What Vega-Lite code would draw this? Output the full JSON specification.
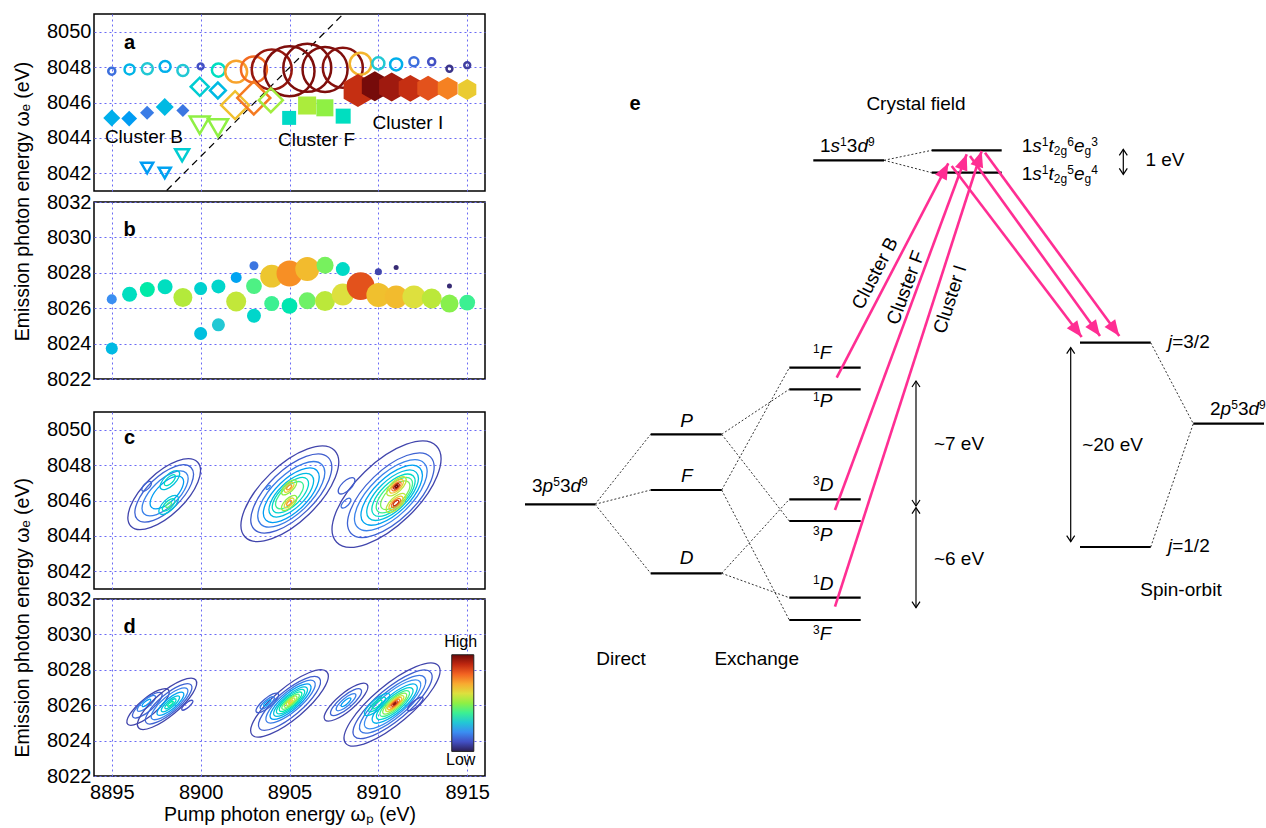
{
  "$schema": "https://vega.github.io/schema/vega-lite/v6.json",
  "padding": {"left": 13, "top": 13, "right": 0, "bottom": 0},
  "spacing": 9,
  "config": {
    "font": "Liberation Sans",
    "view": {"stroke": "black", "strokeWidth": 1.5},
    "axis": {"labelFont": "Liberation Sans", "labelFontSize": 20, "labelColor": "black", "titleFont": "Liberation Sans", "titleFontSize": 19.5, "titleFontWeight": "normal", "titleColor": "black", "grid": true, "gridColor": "#6b6bf5", "gridDash": [2, 3], "gridWidth": 1, "gridOpacity": 1, "domain": false, "ticks": false, "labelPadding": 3},
    "title": {"font": "Liberation Sans", "fontSize": 19.5, "fontWeight": "normal", "color": "black"},
    "text": {"font": "Liberation Sans", "color": "black"},
    "legend": {"disable": true}
  },
  "resolve": {"scale": {"size": "independent", "color": "independent"}},
  "datasets": {
    "a_line": [{"x": 8898.09, "y": 8041.03}, {"x": 8908.02, "y": 8051.0}],
    "a_circ": [
      {"x": 8895, "y": 8047.77, "t": 0.15, "w": 2},
      {"x": 8896, "y": 8047.87, "t": 0.26, "w": 4},
      {"x": 8897, "y": 8047.91, "t": 0.3, "w": 4.8},
      {"x": 8898, "y": 8048.04, "t": 0.25, "w": 4.8},
      {"x": 8899, "y": 8047.81, "t": 0.3, "w": 4.8},
      {"x": 8900, "y": 8048.04, "t": 0.1, "w": 1.4},
      {"x": 8901, "y": 8047.83, "t": 0.35, "w": 6.8},
      {"x": 8902, "y": 8047.74, "t": 0.71, "w": 19},
      {"x": 8903, "y": 8047.87, "t": 0.79, "w": 27},
      {"x": 8904, "y": 8047.87, "t": 0.95, "w": 64},
      {"x": 8905, "y": 8047.77, "t": 0.98, "w": 100},
      {"x": 8906, "y": 8047.96, "t": 0.98, "w": 92},
      {"x": 8907, "y": 8047.87, "t": 0.98, "w": 81},
      {"x": 8908, "y": 8047.96, "t": 0.97, "w": 64},
      {"x": 8909, "y": 8048.19, "t": 0.68, "w": 19},
      {"x": 8910, "y": 8048.21, "t": 0.3, "w": 5.8},
      {"x": 8911, "y": 8048.15, "t": 0.25, "w": 5.8},
      {"x": 8912, "y": 8048.3, "t": 0.15, "w": 3.2},
      {"x": 8913, "y": 8048.3, "t": 0.1, "w": 2},
      {"x": 8914, "y": 8047.91, "t": 0.05, "w": 1.4},
      {"x": 8915, "y": 8048.11, "t": 0.07, "w": 1.4}
    ],
    "a_hex": [
      {"x": 8908.85, "y": 8046.68, "t": 0.89, "w": 43.6},
      {"x": 8909.8, "y": 8046.92, "t": 0.99, "w": 36},
      {"x": 8910.75, "y": 8046.87, "t": 0.94, "w": 33.6},
      {"x": 8911.8, "y": 8046.8, "t": 0.89, "w": 29},
      {"x": 8912.8, "y": 8046.8, "t": 0.83, "w": 25},
      {"x": 8913.9, "y": 8046.8, "t": 0.76, "w": 21},
      {"x": 8915.0, "y": 8046.74, "t": 0.64, "w": 17.6}
    ],
    "a_odiam": [
      {"x": 8899.95, "y": 8046.89, "t": 0.31, "w": 13},
      {"x": 8900.97, "y": 8046.68, "t": 0.27, "w": 10},
      {"x": 8901.94, "y": 8045.85, "t": 0.66, "w": 31},
      {"x": 8902.99, "y": 8046.26, "t": 0.77, "w": 43.6},
      {"x": 8903.95, "y": 8046.13, "t": 0.52, "w": 23}
    ],
    "a_fdiam": [
      {"x": 8895.0, "y": 8045.13, "t": 0.25, "w": 11.6},
      {"x": 8895.98, "y": 8045.09, "t": 0.22, "w": 10},
      {"x": 8896.99, "y": 8045.42, "t": 0.17, "w": 8},
      {"x": 8897.98, "y": 8045.75, "t": 0.27, "w": 13},
      {"x": 8899.0, "y": 8045.55, "t": 0.16, "w": 6.8}
    ],
    "a_tri": [
      {"x": 8899.95, "y": 8044.72, "t": 0.5, "w": 16},
      {"x": 8900.98, "y": 8044.57, "t": 0.5, "w": 16},
      {"x": 8898.96, "y": 8043.02, "t": 0.31, "w": 7.8},
      {"x": 8896.99, "y": 8042.3, "t": 0.22, "w": 5.8},
      {"x": 8897.98, "y": 8042.02, "t": 0.23, "w": 5.8}
    ],
    "a_sq": [
      {"x": 8904.98, "y": 8045.13, "t": 0.34, "w": 7.8},
      {"x": 8905.99, "y": 8045.83, "t": 0.53, "w": 13},
      {"x": 8906.99, "y": 8045.7, "t": 0.5, "w": 11.6},
      {"x": 8908.02, "y": 8045.23, "t": 0.35, "w": 9}
    ],
    "a_text": [
      {"x": 8896.81, "y": 8044.07, "text": "Cluster B"},
      {"x": 8906.52, "y": 8043.88, "text": "Cluster F"},
      {"x": 8911.66, "y": 8044.82, "text": "Cluster I"}
    ],
    "b_pts": [
      {"x": 8895, "y": 8026.51, "t": 0.2, "w": 4},
      {"x": 8895, "y": 8023.72, "t": 0.27, "w": 5.8},
      {"x": 8896, "y": 8026.79, "t": 0.35, "w": 9},
      {"x": 8897, "y": 8027.06, "t": 0.38, "w": 9},
      {"x": 8898, "y": 8027.21, "t": 0.35, "w": 9},
      {"x": 8899, "y": 8026.6, "t": 0.54, "w": 14.4},
      {"x": 8900, "y": 8027.11, "t": 0.32, "w": 6.8},
      {"x": 8900, "y": 8024.57, "t": 0.28, "w": 6.8},
      {"x": 8901, "y": 8027.23, "t": 0.33, "w": 7.8},
      {"x": 8901, "y": 8025.06, "t": 0.3, "w": 6.8},
      {"x": 8902, "y": 8027.74, "t": 0.23, "w": 4.8},
      {"x": 8902, "y": 8026.38, "t": 0.56, "w": 16},
      {"x": 8903, "y": 8028.4, "t": 0.16, "w": 3.2},
      {"x": 8903, "y": 8027.25, "t": 0.42, "w": 10},
      {"x": 8903, "y": 8025.57, "t": 0.33, "w": 7.8},
      {"x": 8904, "y": 8027.81, "t": 0.65, "w": 21},
      {"x": 8904, "y": 8026.26, "t": 0.4, "w": 9},
      {"x": 8905, "y": 8027.96, "t": 0.74, "w": 27},
      {"x": 8905, "y": 8026.13, "t": 0.37, "w": 10},
      {"x": 8906, "y": 8028.21, "t": 0.67, "w": 23},
      {"x": 8906, "y": 8026.42, "t": 0.46, "w": 11.6},
      {"x": 8907, "y": 8028.43, "t": 0.47, "w": 11.6},
      {"x": 8907, "y": 8026.4, "t": 0.55, "w": 16},
      {"x": 8908, "y": 8028.21, "t": 0.34, "w": 7.8},
      {"x": 8908, "y": 8026.77, "t": 0.6, "w": 19.4},
      {"x": 8909, "y": 8027.25, "t": 0.83, "w": 31},
      {"x": 8910, "y": 8028.06, "t": 0.08, "w": 2},
      {"x": 8910, "y": 8026.74, "t": 0.66, "w": 23},
      {"x": 8911, "y": 8028.3, "t": 0.03, "w": 1},
      {"x": 8911, "y": 8026.64, "t": 0.67, "w": 21},
      {"x": 8912, "y": 8026.64, "t": 0.6, "w": 21},
      {"x": 8913, "y": 8026.55, "t": 0.55, "w": 16},
      {"x": 8914, "y": 8027.25, "t": 0.03, "w": 1},
      {"x": 8914, "y": 8026.26, "t": 0.49, "w": 13},
      {"x": 8915, "y": 8026.32, "t": 0.4, "w": 10}
    ],
    "c_cont": [
      {"x": 8897.95, "y": 8046.36, "a": 2.6, "t": 0.08},
      {"x": 8897.95, "y": 8046.4, "a": 2.1, "t": 0.13},
      {"x": 8898.0, "y": 8046.4, "a": 1.65, "t": 0.18},
      {"x": 8898.1, "y": 8046.45, "a": 1.2, "t": 0.22},
      {"x": 8898.27, "y": 8047.15, "a": 0.7, "t": 0.28},
      {"x": 8898.2, "y": 8045.75, "a": 0.7, "t": 0.28},
      {"x": 8898.27, "y": 8047.15, "a": 0.4, "t": 0.35},
      {"x": 8898.2, "y": 8045.75, "a": 0.45, "t": 0.35},
      {"x": 8898.2, "y": 8045.75, "a": 0.2, "t": 0.42},
      {"x": 8896.96, "y": 8046.8, "a": 0.35, "t": 0.13},
      {"x": 8905.02, "y": 8046.38, "a": 3.5, "t": 0.08},
      {"x": 8905.1, "y": 8046.4, "a": 2.9, "t": 0.12},
      {"x": 8905.1, "y": 8046.35, "a": 2.4, "t": 0.17},
      {"x": 8905.1, "y": 8046.3, "a": 2.0, "t": 0.22},
      {"x": 8905.1, "y": 8046.3, "a": 1.6, "t": 0.27},
      {"x": 8905.05, "y": 8046.3, "a": 1.3, "t": 0.33},
      {"x": 8905.0, "y": 8046.3, "a": 1.0, "t": 0.4},
      {"x": 8904.98, "y": 8046.74, "a": 0.55, "t": 0.5},
      {"x": 8904.98, "y": 8045.86, "a": 0.55, "t": 0.5},
      {"x": 8904.98, "y": 8046.74, "a": 0.35, "t": 0.62},
      {"x": 8904.98, "y": 8045.86, "a": 0.35, "t": 0.62},
      {"x": 8904.98, "y": 8046.74, "a": 0.18, "t": 0.72},
      {"x": 8904.98, "y": 8045.86, "a": 0.18, "t": 0.72},
      {"x": 8903.8, "y": 8046.74, "a": 0.15, "t": 0.2},
      {"x": 8910.46, "y": 8046.36, "a": 3.9, "t": 0.08},
      {"x": 8908.21, "y": 8046.83, "a": 0.6, "t": 0.12},
      {"x": 8908.18, "y": 8045.85, "a": 0.35, "t": 0.15},
      {"x": 8910.7, "y": 8046.3, "a": 3.1, "t": 0.13},
      {"x": 8910.7, "y": 8046.3, "a": 2.6, "t": 0.18},
      {"x": 8910.75, "y": 8046.3, "a": 2.2, "t": 0.23},
      {"x": 8910.8, "y": 8046.3, "a": 1.85, "t": 0.28},
      {"x": 8910.85, "y": 8046.3, "a": 1.55, "t": 0.34},
      {"x": 8910.9, "y": 8046.3, "a": 1.3, "t": 0.4},
      {"x": 8910.95, "y": 8046.3, "a": 1.05, "t": 0.47},
      {"x": 8911.02, "y": 8046.8, "a": 0.7, "t": 0.55},
      {"x": 8910.99, "y": 8045.86, "a": 0.7, "t": 0.55},
      {"x": 8911.02, "y": 8046.8, "a": 0.5, "t": 0.65},
      {"x": 8910.99, "y": 8045.86, "a": 0.5, "t": 0.65},
      {"x": 8911.02, "y": 8046.8, "a": 0.33, "t": 0.78},
      {"x": 8910.99, "y": 8045.86, "a": 0.33, "t": 0.78},
      {"x": 8911.02, "y": 8046.8, "a": 0.2, "t": 0.9},
      {"x": 8910.99, "y": 8045.86, "a": 0.2, "t": 0.88},
      {"x": 8911.02, "y": 8046.8, "a": 0.1, "t": 1.0}
    ],
    "d_cont": [
      {"x": 8897.04, "y": 8025.9, "a": 1.5, "t": 0.08},
      {"x": 8897.0, "y": 8026.0, "a": 1.05, "t": 0.13},
      {"x": 8896.95, "y": 8026.1, "a": 0.65, "t": 0.18},
      {"x": 8896.95, "y": 8026.13, "a": 0.3, "t": 0.22},
      {"x": 8898.11, "y": 8026.08, "a": 2.1, "t": 0.08},
      {"x": 8898.2, "y": 8026.08, "a": 1.65, "t": 0.13},
      {"x": 8898.25, "y": 8026.08, "a": 1.3, "t": 0.18},
      {"x": 8898.3, "y": 8026.08, "a": 0.95, "t": 0.23},
      {"x": 8898.3, "y": 8026.08, "a": 0.65, "t": 0.28},
      {"x": 8898.3, "y": 8026.08, "a": 0.4, "t": 0.33},
      {"x": 8898.3, "y": 8026.08, "a": 0.2, "t": 0.38},
      {"x": 8899.25, "y": 8026.0, "a": 0.4, "t": 0.1},
      {"x": 8905.0, "y": 8026.1, "a": 2.75, "t": 0.08},
      {"x": 8905.0, "y": 8026.1, "a": 2.2, "t": 0.12},
      {"x": 8903.75, "y": 8026.13, "a": 0.8, "t": 0.12},
      {"x": 8903.75, "y": 8026.13, "a": 0.5, "t": 0.17},
      {"x": 8903.75, "y": 8026.13, "a": 0.25, "t": 0.22},
      {"x": 8905.06, "y": 8026.2, "a": 1.75, "t": 0.17},
      {"x": 8905.06, "y": 8026.2, "a": 1.45, "t": 0.22},
      {"x": 8905.06, "y": 8026.2, "a": 1.2, "t": 0.28},
      {"x": 8905.06, "y": 8026.2, "a": 1.0, "t": 0.33},
      {"x": 8905.06, "y": 8026.2, "a": 0.8, "t": 0.38},
      {"x": 8905.06, "y": 8026.2, "a": 0.62, "t": 0.44},
      {"x": 8905.06, "y": 8026.2, "a": 0.45, "t": 0.5},
      {"x": 8905.06, "y": 8026.2, "a": 0.3, "t": 0.56},
      {"x": 8905.06, "y": 8026.2, "a": 0.15, "t": 0.62},
      {"x": 8908.18, "y": 8026.17, "a": 1.55, "t": 0.08},
      {"x": 8908.18, "y": 8026.17, "a": 1.1, "t": 0.13},
      {"x": 8908.18, "y": 8026.17, "a": 0.7, "t": 0.18},
      {"x": 8908.18, "y": 8026.17, "a": 0.35, "t": 0.22},
      {"x": 8910.77, "y": 8026.04, "a": 3.4, "t": 0.08},
      {"x": 8910.8, "y": 8026.05, "a": 2.8, "t": 0.12},
      {"x": 8910.8, "y": 8026.05, "a": 2.35, "t": 0.16},
      {"x": 8910.8, "y": 8026.05, "a": 2.0, "t": 0.2},
      {"x": 8909.93, "y": 8026.04, "a": 0.9, "t": 0.27},
      {"x": 8909.93, "y": 8026.04, "a": 0.6, "t": 0.33},
      {"x": 8909.93, "y": 8026.04, "a": 0.35, "t": 0.38},
      {"x": 8910.92, "y": 8026.09, "a": 1.6, "t": 0.25},
      {"x": 8910.92, "y": 8026.09, "a": 1.3, "t": 0.32},
      {"x": 8910.92, "y": 8026.09, "a": 1.05, "t": 0.4},
      {"x": 8910.92, "y": 8026.09, "a": 0.85, "t": 0.48},
      {"x": 8910.92, "y": 8026.09, "a": 0.65, "t": 0.57},
      {"x": 8910.92, "y": 8026.09, "a": 0.5, "t": 0.66},
      {"x": 8910.92, "y": 8026.09, "a": 0.35, "t": 0.75},
      {"x": 8910.92, "y": 8026.09, "a": 0.22, "t": 0.85},
      {"x": 8910.92, "y": 8026.09, "a": 0.1, "t": 0.95},
      {"x": 8912.08, "y": 8026.07, "a": 0.55, "t": 0.1}
    ],
    "e_levels": [
      {"x": 2.5, "x2": 9.5, "y": 27.37},
      {"x": 15.07, "x2": 22.17, "y": 34.37},
      {"x": 15.07, "x2": 22.17, "y": 28.8},
      {"x": 15.07, "x2": 22.17, "y": 20.47},
      {"x": 28.93, "x2": 36.07, "y": 41.03},
      {"x": 28.93, "x2": 36.07, "y": 38.87},
      {"x": 28.93, "x2": 36.07, "y": 27.87},
      {"x": 28.93, "x2": 36.07, "y": 25.7},
      {"x": 28.93, "x2": 36.07, "y": 18.03},
      {"x": 28.93, "x2": 36.07, "y": 15.8},
      {"x": 58.0, "x2": 65.07, "y": 43.53},
      {"x": 58.0, "x2": 65.07, "y": 23.1},
      {"x": 69.33, "x2": 76.4, "y": 35.43},
      {"x": 31.33, "x2": 38.4, "y": 61.77},
      {"x": 43.17, "x2": 50.17, "y": 62.77},
      {"x": 43.17, "x2": 50.17, "y": 60.53}
    ],
    "e_links": [
      {"x": 9.5, "y": 27.37, "x2": 15.07, "y2": 34.37},
      {"x": 9.5, "y": 27.37, "x2": 15.07, "y2": 28.8},
      {"x": 9.5, "y": 27.37, "x2": 15.07, "y2": 20.47},
      {"x": 22.17, "y": 34.37, "x2": 28.93, "y2": 38.87},
      {"x": 22.17, "y": 34.37, "x2": 28.93, "y2": 25.7},
      {"x": 22.17, "y": 28.8, "x2": 28.93, "y2": 41.03},
      {"x": 22.17, "y": 28.8, "x2": 28.93, "y2": 15.8},
      {"x": 22.17, "y": 20.47, "x2": 28.93, "y2": 27.87},
      {"x": 22.17, "y": 20.47, "x2": 28.93, "y2": 18.03},
      {"x": 38.4, "y": 61.77, "x2": 43.17, "y2": 62.77},
      {"x": 38.4, "y": 61.77, "x2": 43.17, "y2": 60.53},
      {"x": 65.07, "y": 43.53, "x2": 69.33, "y2": 35.43},
      {"x": 65.07, "y": 23.1, "x2": 69.33, "y2": 35.43}
    ],
    "e_trans": [
      {"x": 33.67, "y": 40.03, "x2": 44.83, "y2": 61.47, "dir": 27.5},
      {"x": 33.5, "y": 26.8, "x2": 46.67, "y2": 62.37, "dir": 20.3},
      {"x": 33.5, "y": 17.13, "x2": 48.17, "y2": 62.7, "dir": 17.8},
      {"x": 45.17, "y": 61.2, "x2": 58.17, "y2": 44.1, "dir": 142.8},
      {"x": 47.0, "y": 62.2, "x2": 60.0, "y2": 44.2, "dir": 144.2},
      {"x": 48.5, "y": 62.53, "x2": 61.93, "y2": 44.2, "dir": 143.8}
    ],
    "e_spans": [
      {"x": 62.33, "y": 62.87, "y2": 60.37},
      {"x": 41.6, "y": 39.7, "y2": 27.2},
      {"x": 41.6, "y": 27.03, "y2": 17.03},
      {"x": 57.07, "y": 43.03, "y2": 23.63}
    ],
    "e_text": [
      {"x": 41.6, "y": 67.4, "text": "Crystal field", "role": "c"},
      {"x": 66.5, "y": 61.8, "text": "1 eV", "role": "c"},
      {"x": 61.25, "y": 33.3, "text": "~20 eV", "role": "c"},
      {"x": 45.9, "y": 33.37, "text": "~7 eV", "role": "c"},
      {"x": 45.9, "y": 21.87, "text": "~6 eV", "role": "c"},
      {"x": 12.1, "y": 11.87, "text": "Direct", "role": "c"},
      {"x": 25.67, "y": 11.87, "text": "Exchange", "role": "c"},
      {"x": 68.1, "y": 18.77, "text": "Spin-orbit", "role": "c"},
      {"x": 13.5, "y": 67.4, "text": "e", "role": "b"},
      {"x": 37.5, "y": 50.47, "text": "Cluster B", "role": "r", "ang": 297.5},
      {"x": 40.57, "y": 49.03, "text": "Cluster F", "role": "r", "ang": 290.3},
      {"x": 45.0, "y": 47.87, "text": "Cluster I", "role": "r", "ang": 287.8},
      {"x": 32.0, "y": 63.2, "text": "1", "role": "n"},
      {"x": 33.06, "y": 63.2, "text": "s", "role": "i"},
      {"x": 34.01, "y": 63.2, "text": "1", "role": "sup"},
      {"x": 34.68, "y": 63.2, "text": "3", "role": "n"},
      {"x": 35.74, "y": 63.2, "text": "d", "role": "i"},
      {"x": 36.8, "y": 63.2, "text": "9", "role": "sup"},
      {"x": 52.17, "y": 63.2, "text": "1", "role": "n"},
      {"x": 53.23, "y": 63.2, "text": "s", "role": "i"},
      {"x": 54.18, "y": 63.2, "text": "1", "role": "sup"},
      {"x": 54.85, "y": 63.2, "text": "t", "role": "i"},
      {"x": 55.38, "y": 63.2, "text": "2g", "role": "sub"},
      {"x": 56.72, "y": 63.2, "text": "6", "role": "sup"},
      {"x": 57.39, "y": 63.2, "text": "e", "role": "i"},
      {"x": 58.45, "y": 63.2, "text": "g", "role": "sub"},
      {"x": 59.12, "y": 63.2, "text": "3", "role": "sup"},
      {"x": 52.17, "y": 60.43, "text": "1", "role": "n"},
      {"x": 53.23, "y": 60.43, "text": "s", "role": "i"},
      {"x": 54.18, "y": 60.43, "text": "1", "role": "sup"},
      {"x": 54.85, "y": 60.43, "text": "t", "role": "i"},
      {"x": 55.38, "y": 60.43, "text": "2g", "role": "sub"},
      {"x": 56.72, "y": 60.43, "text": "5", "role": "sup"},
      {"x": 57.39, "y": 60.43, "text": "e", "role": "i"},
      {"x": 58.45, "y": 60.43, "text": "g", "role": "sub"},
      {"x": 59.12, "y": 60.43, "text": "4", "role": "sup"},
      {"x": 3.2, "y": 29.2, "text": "3", "role": "n"},
      {"x": 4.26, "y": 29.2, "text": "p", "role": "i"},
      {"x": 5.32, "y": 29.2, "text": "5", "role": "sup"},
      {"x": 5.99, "y": 29.2, "text": "3", "role": "n"},
      {"x": 7.05, "y": 29.2, "text": "d", "role": "i"},
      {"x": 8.11, "y": 29.2, "text": "9", "role": "sup"},
      {"x": 71.0, "y": 36.9, "text": "2", "role": "n"},
      {"x": 72.06, "y": 36.9, "text": "p", "role": "i"},
      {"x": 73.12, "y": 36.9, "text": "5", "role": "sup"},
      {"x": 73.79, "y": 36.9, "text": "3", "role": "n"},
      {"x": 74.85, "y": 36.9, "text": "d", "role": "i"},
      {"x": 75.91, "y": 36.9, "text": "9", "role": "sup"},
      {"x": 31.3, "y": 42.53, "text": "1", "role": "sup"},
      {"x": 31.97, "y": 42.53, "text": "F", "role": "i"},
      {"x": 31.3, "y": 37.7, "text": "1", "role": "sup"},
      {"x": 31.97, "y": 37.7, "text": "P", "role": "i"},
      {"x": 31.3, "y": 29.3, "text": "3", "role": "sup"},
      {"x": 31.97, "y": 29.3, "text": "D", "role": "i"},
      {"x": 31.3, "y": 24.27, "text": "3", "role": "sup"},
      {"x": 31.97, "y": 24.27, "text": "P", "role": "i"},
      {"x": 31.3, "y": 19.37, "text": "1", "role": "sup"},
      {"x": 31.97, "y": 19.37, "text": "D", "role": "i"},
      {"x": 31.3, "y": 14.43, "text": "3", "role": "sup"},
      {"x": 31.97, "y": 14.43, "text": "F", "role": "i"},
      {"x": 18.03, "y": 35.7, "text": "P", "role": "i"},
      {"x": 18.09, "y": 30.2, "text": "F", "role": "i"},
      {"x": 17.98, "y": 21.97, "text": "D", "role": "i"},
      {"x": 66.8, "y": 43.6, "text": "j", "role": "i"},
      {"x": 67.22, "y": 43.6, "text": "=3/2", "role": "n"},
      {"x": 66.8, "y": 23.2, "text": "j", "role": "i"},
      {"x": 67.22, "y": 23.2, "text": "=1/2", "role": "n"}
    ]
  },
  "hconcat": [
    {
      "spacing": 21,
      "resolve": {"scale": {"size": "independent", "color": "independent"}},
      "vconcat": [
        {
          "spacing": -1,
          "title": {"text": "Emission photon energy ωₑ (eV)", "orient": "left", "anchor": "middle", "offset": 12},
          "resolve": {"scale": {"size": "independent", "color": "independent"}},
          "vconcat": [
            {
              "width": 391, "height": 177,
              "encoding": {
                "x": {"field": "x", "type": "quantitative", "scale": {"domain": [8894, 8916], "nice": false, "zero": false}, "axis": {"values": [8895, 8900, 8905, 8910, 8915], "labels": false, "title": null}},
                "y": {"field": "y", "type": "quantitative", "scale": {"domain": [8041, 8051], "nice": false, "zero": false}, "axis": {"values": [8042, 8044, 8046, 8048, 8050], "format": "d", "title": null}}
              },
              "layer": [
                {"data": {"name": "a_line"}, "mark": {"type": "line", "color": "black", "strokeDash": [7, 5], "strokeWidth": 1.2, "clip": true}},
                {"data": {"name": "a_fdiam"}, "mark": {"type": "point", "shape": "diamond", "filled": true, "opacity": 1},
                 "encoding": {"color": {"field": "t", "type": "quantitative", "scale": {"domain": [0, 0.1, 0.2, 0.3, 0.4, 0.5, 0.6, 0.7, 0.8, 0.9, 1], "range": ["#2c1e55", "#4250c4", "#3a8ef2", "#22c8d4", "#3cf092", "#8ff044", "#dde03e", "#f8aa30", "#f26322", "#c02810", "#6e0808"]}},
                              "size": {"field": "w", "type": "quantitative", "scale": {"type": "linear", "domain": [0, 100], "range": [0, 2500]}}}},
                {"data": {"name": "a_sq"}, "mark": {"type": "point", "shape": "square", "filled": true, "opacity": 1},
                 "encoding": {"color": {"field": "t", "type": "quantitative", "scale": {"domain": [0, 0.1, 0.2, 0.3, 0.4, 0.5, 0.6, 0.7, 0.8, 0.9, 1], "range": ["#2c1e55", "#4250c4", "#3a8ef2", "#22c8d4", "#3cf092", "#8ff044", "#dde03e", "#f8aa30", "#f26322", "#c02810", "#6e0808"]}},
                              "size": {"field": "w", "type": "quantitative", "scale": {"type": "linear", "domain": [0, 100], "range": [0, 2500]}}}},
                {"data": {"name": "a_circ"}, "mark": {"type": "point", "shape": "circle", "filled": false, "strokeWidth": 2.5, "opacity": 1},
                 "encoding": {"color": {"field": "t", "type": "quantitative", "scale": {"domain": [0, 0.1, 0.2, 0.3, 0.4, 0.5, 0.6, 0.7, 0.8, 0.9, 1], "range": ["#2c1e55", "#4250c4", "#3a8ef2", "#22c8d4", "#3cf092", "#8ff044", "#dde03e", "#f8aa30", "#f26322", "#c02810", "#6e0808"]}},
                              "size": {"field": "w", "type": "quantitative", "scale": {"type": "linear", "domain": [0, 100], "range": [0, 2500]}}}},
                {"data": {"name": "a_hex"}, "mark": {"type": "point", "shape": "M0,-1L0.866,-0.5L0.866,0.5L0,1L-0.866,0.5L-0.866,-0.5Z", "filled": true, "opacity": 1},
                 "encoding": {"color": {"field": "t", "type": "quantitative", "scale": {"domain": [0, 0.1, 0.2, 0.3, 0.4, 0.5, 0.6, 0.7, 0.8, 0.9, 1], "range": ["#2c1e55", "#4250c4", "#3a8ef2", "#22c8d4", "#3cf092", "#8ff044", "#dde03e", "#f8aa30", "#f26322", "#c02810", "#6e0808"]}},
                              "size": {"field": "w", "type": "quantitative", "scale": {"type": "linear", "domain": [0, 100], "range": [0, 2500]}}}},
                {"data": {"name": "a_odiam"}, "mark": {"type": "point", "shape": "diamond", "filled": false, "strokeWidth": 2.5, "opacity": 1},
                 "encoding": {"color": {"field": "t", "type": "quantitative", "scale": {"domain": [0, 0.1, 0.2, 0.3, 0.4, 0.5, 0.6, 0.7, 0.8, 0.9, 1], "range": ["#2c1e55", "#4250c4", "#3a8ef2", "#22c8d4", "#3cf092", "#8ff044", "#dde03e", "#f8aa30", "#f26322", "#c02810", "#6e0808"]}},
                              "size": {"field": "w", "type": "quantitative", "scale": {"type": "linear", "domain": [0, 100], "range": [0, 2500]}}}},
                {"data": {"name": "a_tri"}, "mark": {"type": "point", "shape": "triangle-down", "filled": false, "strokeWidth": 2.5, "opacity": 1},
                 "encoding": {"color": {"field": "t", "type": "quantitative", "scale": {"domain": [0, 0.1, 0.2, 0.3, 0.4, 0.5, 0.6, 0.7, 0.8, 0.9, 1], "range": ["#2c1e55", "#4250c4", "#3a8ef2", "#22c8d4", "#3cf092", "#8ff044", "#dde03e", "#f8aa30", "#f26322", "#c02810", "#6e0808"]}},
                              "size": {"field": "w", "type": "quantitative", "scale": {"type": "linear", "domain": [0, 100], "range": [0, 2500]}}}},
                {"data": {"name": "a_text"}, "mark": {"type": "text", "fontSize": 19, "align": "center", "baseline": "middle"}, "encoding": {"text": {"field": "text"}}},
                {"data": {"values": [{"x": 8896, "y": 8049.35, "text": "a"}]}, "mark": {"type": "text", "fontSize": 20, "fontWeight": "bold", "align": "center", "baseline": "middle"}, "encoding": {"text": {"field": "text"}}}
              ]
            },
            {
              "width": 391, "height": 177,
              "encoding": {
                "x": {"field": "x", "type": "quantitative", "scale": {"domain": [8894, 8916], "nice": false, "zero": false}, "axis": {"values": [8895, 8900, 8905, 8910, 8915], "labels": false, "title": null}},
                "y": {"field": "y", "type": "quantitative", "scale": {"domain": [8022, 8032], "nice": false, "zero": false}, "axis": {"values": [8022, 8024, 8026, 8028, 8030, 8032], "format": "d", "title": null}}
              },
              "layer": [
                {"data": {"name": "b_pts"}, "mark": {"type": "point", "shape": "circle", "filled": true, "opacity": 1},
                 "encoding": {"color": {"field": "t", "type": "quantitative", "scale": {"domain": [0, 0.1, 0.2, 0.3, 0.4, 0.5, 0.6, 0.7, 0.8, 0.9, 1], "range": ["#2c1e55", "#4250c4", "#3a8ef2", "#22c8d4", "#3cf092", "#8ff044", "#dde03e", "#f8aa30", "#f26322", "#c02810", "#6e0808"]}},
                              "size": {"field": "w", "type": "quantitative", "scale": {"type": "linear", "domain": [0, 100], "range": [0, 2500]}}}},
                {"data": {"values": [{"x": 8896, "y": 8030.4, "text": "b"}]}, "mark": {"type": "text", "fontSize": 20, "fontWeight": "bold", "align": "center", "baseline": "middle"}, "encoding": {"text": {"field": "text"}}}
              ]
            }
          ]
        },
        {
          "spacing": -2,
          "title": {"text": "Emission photon energy ωₑ (eV)", "orient": "left", "anchor": "middle", "offset": 12},
          "resolve": {"scale": {"size": "independent", "color": "independent"}},
          "vconcat": [
            {
              "width": 391, "height": 177,
              "encoding": {
                "x": {"field": "x", "type": "quantitative", "scale": {"domain": [8894, 8916], "nice": false, "zero": false}, "axis": {"values": [8895, 8900, 8905, 8910, 8915], "labels": false, "title": null}},
                "y": {"field": "y", "type": "quantitative", "scale": {"domain": [8041, 8051], "nice": false, "zero": false}, "axis": {"values": [8042, 8044, 8046, 8048, 8050], "format": "d", "title": null}}
              },
              "layer": [
                {"data": {"name": "c_cont"}, "mark": {"type": "point", "shape": "M-1,0A1,0.45 0 1,1 1,0A1,0.45 0 1,1 -1,0Z", "filled": false, "strokeWidth": 1.3, "angle": 316, "opacity": 1},
                 "encoding": {"color": {"field": "t", "type": "quantitative", "scale": {"domain": [0, 0.1, 0.2, 0.3, 0.4, 0.5, 0.6, 0.7, 0.8, 0.9, 1], "range": ["#2c1e55", "#4250c4", "#3a8ef2", "#22c8d4", "#3cf092", "#8ff044", "#dde03e", "#f8aa30", "#f26322", "#c02810", "#6e0808"]}},
                              "size": {"field": "a", "type": "quantitative", "scale": {"type": "pow", "exponent": 2, "domain": [0, 4], "range": [0, 20232]}}}},
                {"data": {"values": [{"x": 8896, "y": 8049.55, "text": "c"}]}, "mark": {"type": "text", "fontSize": 20, "fontWeight": "bold", "align": "center", "baseline": "middle"}, "encoding": {"text": {"field": "text"}}}
              ]
            },
            {
              "width": 391, "height": 177,
              "encoding": {
                "x": {"field": "x", "type": "quantitative", "scale": {"domain": [8894, 8916], "nice": false, "zero": false}, "axis": {"values": [8895, 8900, 8905, 8910, 8915], "format": "d", "title": "Pump photon energy ωₚ (eV)", "labelPadding": 6, "titlePadding": 3}},
                "y": {"field": "y", "type": "quantitative", "scale": {"domain": [8022, 8032], "nice": false, "zero": false}, "axis": {"values": [8022, 8024, 8026, 8028, 8030, 8032], "format": "d", "title": null}}
              },
              "layer": [
                {"data": {"name": "d_cont"}, "mark": {"type": "point", "shape": "M-1,0A1,0.32 0 1,1 1,0A1,0.32 0 1,1 -1,0Z", "filled": false, "strokeWidth": 1.3, "angle": 320, "opacity": 1},
                 "encoding": {"color": {"field": "t", "type": "quantitative", "scale": {"domain": [0, 0.1, 0.2, 0.3, 0.4, 0.5, 0.6, 0.7, 0.8, 0.9, 1], "range": ["#2c1e55", "#4250c4", "#3a8ef2", "#22c8d4", "#3cf092", "#8ff044", "#dde03e", "#f8aa30", "#f26322", "#c02810", "#6e0808"]}},
                              "size": {"field": "a", "type": "quantitative", "scale": {"type": "pow", "exponent": 2, "domain": [0, 4], "range": [0, 20232]}}}},
                {"data": {"values": [{"x": 8914.13, "x2": 8915.37, "y": 8023.39, "y2": 8028.85}]},
                 "mark": {"type": "rect", "stroke": "#222222", "strokeWidth": 1, "fill": {"gradient": "linear", "x1": 0, "y1": 1, "x2": 0, "y2": 0, "stops": [{"offset": 0, "color": "#2c1e55"}, {"offset": 0.1, "color": "#4250c4"}, {"offset": 0.2, "color": "#3a8ef2"}, {"offset": 0.3, "color": "#22c8d4"}, {"offset": 0.4, "color": "#3cf092"}, {"offset": 0.5, "color": "#8ff044"}, {"offset": 0.6, "color": "#dde03e"}, {"offset": 0.7, "color": "#f8aa30"}, {"offset": 0.8, "color": "#f26322"}, {"offset": 0.9, "color": "#c02810"}, {"offset": 1, "color": "#6e0808"}]}},
                 "encoding": {"x2": {"field": "x2"}, "y2": {"field": "y2"}}},
                {"data": {"values": [{"x": 8914.63, "y": 8029.58, "text": "High"}, {"x": 8914.63, "y": 8022.89, "text": "Low"}]}, "mark": {"type": "text", "fontSize": 16, "align": "center", "baseline": "middle"}, "encoding": {"text": {"field": "text"}}},
                {"data": {"values": [{"x": 8896, "y": 8030.4, "text": "d"}]}, "mark": {"type": "text", "fontSize": 20, "fontWeight": "bold", "align": "center", "baseline": "middle"}, "encoding": {"text": {"field": "text"}}}
              ]
            }
          ]
        }
      ]
    },
    {
      "width": 766, "height": 764,
      "view": {"stroke": null},
      "encoding": {
        "x": {"field": "x", "type": "quantitative", "scale": {"domain": [0, 76.6], "nice": false, "zero": false}, "axis": null},
        "y": {"field": "y", "type": "quantitative", "scale": {"domain": [0, 76.4], "nice": false, "zero": false}, "axis": null}
      },
      "layer": [
        {"data": {"name": "e_links"}, "mark": {"type": "rule", "color": "#333333", "strokeWidth": 1, "strokeDash": [2, 2]}, "encoding": {"x2": {"field": "x2"}, "y2": {"field": "y2"}}},
        {"data": {"name": "e_levels"}, "mark": {"type": "rule", "color": "black", "strokeWidth": 2.2}, "encoding": {"x2": {"field": "x2"}}},
        {"data": {"name": "e_spans"}, "mark": {"type": "rule", "color": "black", "strokeWidth": 1.2}, "encoding": {"y2": {"field": "y2"}}},
        {"data": {"name": "e_spans"}, "mark": {"type": "point", "shape": "M-0.8,1.2L0,0L0.8,1.2", "filled": false, "stroke": "black", "strokeWidth": 1.2, "size": 100, "opacity": 1}},
        {"data": {"name": "e_spans"}, "mark": {"type": "point", "shape": "M-0.8,-1.2L0,0L0.8,-1.2", "filled": false, "stroke": "black", "strokeWidth": 1.2, "size": 100, "opacity": 1}, "encoding": {"y": {"field": "y2", "type": "quantitative"}}},
        {"data": {"name": "e_trans"}, "mark": {"type": "rule", "color": "#ff2e93", "strokeWidth": 2.6}, "encoding": {"x2": {"field": "x2"}, "y2": {"field": "y2"}}},
        {"data": {"name": "e_trans"}, "mark": {"type": "point", "shape": "M0,0L-0.7,1.7L0.7,1.7Z", "filled": true, "color": "#ff2e93", "size": 354, "opacity": 1},
         "encoding": {"x": {"field": "x2", "type": "quantitative"}, "y": {"field": "y2", "type": "quantitative"}, "angle": {"field": "dir", "type": "quantitative", "scale": null}}},
        {"data": {"name": "e_text"}, "transform": [{"filter": "datum.role === 'c'"}], "mark": {"type": "text", "fontSize": 19, "align": "center", "baseline": "middle"}, "encoding": {"text": {"field": "text"}}},
        {"data": {"name": "e_text"}, "transform": [{"filter": "datum.role === 'b'"}], "mark": {"type": "text", "fontSize": 20, "fontWeight": "bold", "align": "center", "baseline": "middle"}, "encoding": {"text": {"field": "text"}}},
        {"data": {"name": "e_text"}, "transform": [{"filter": "datum.role === 'r'"}], "mark": {"type": "text", "fontSize": 19, "align": "center", "baseline": "middle"}, "encoding": {"text": {"field": "text"}, "angle": {"field": "ang", "type": "quantitative", "scale": null}}},
        {"data": {"name": "e_text"}, "transform": [{"filter": "datum.role === 'n'"}], "mark": {"type": "text", "fontSize": 19, "align": "left", "baseline": "middle"}, "encoding": {"text": {"field": "text"}}},
        {"data": {"name": "e_text"}, "transform": [{"filter": "datum.role === 'i'"}], "mark": {"type": "text", "fontSize": 19, "fontStyle": "italic", "align": "left", "baseline": "middle"}, "encoding": {"text": {"field": "text"}}},
        {"data": {"name": "e_text"}, "transform": [{"filter": "datum.role === 'sup'"}], "mark": {"type": "text", "fontSize": 12, "align": "left", "baseline": "middle", "dy": -4}, "encoding": {"text": {"field": "text"}}},
        {"data": {"name": "e_text"}, "transform": [{"filter": "datum.role === 'sub'"}], "mark": {"type": "text", "fontSize": 12, "align": "left", "baseline": "middle", "dy": 5}, "encoding": {"text": {"field": "text"}}}
      ]
    }
  ]
}
